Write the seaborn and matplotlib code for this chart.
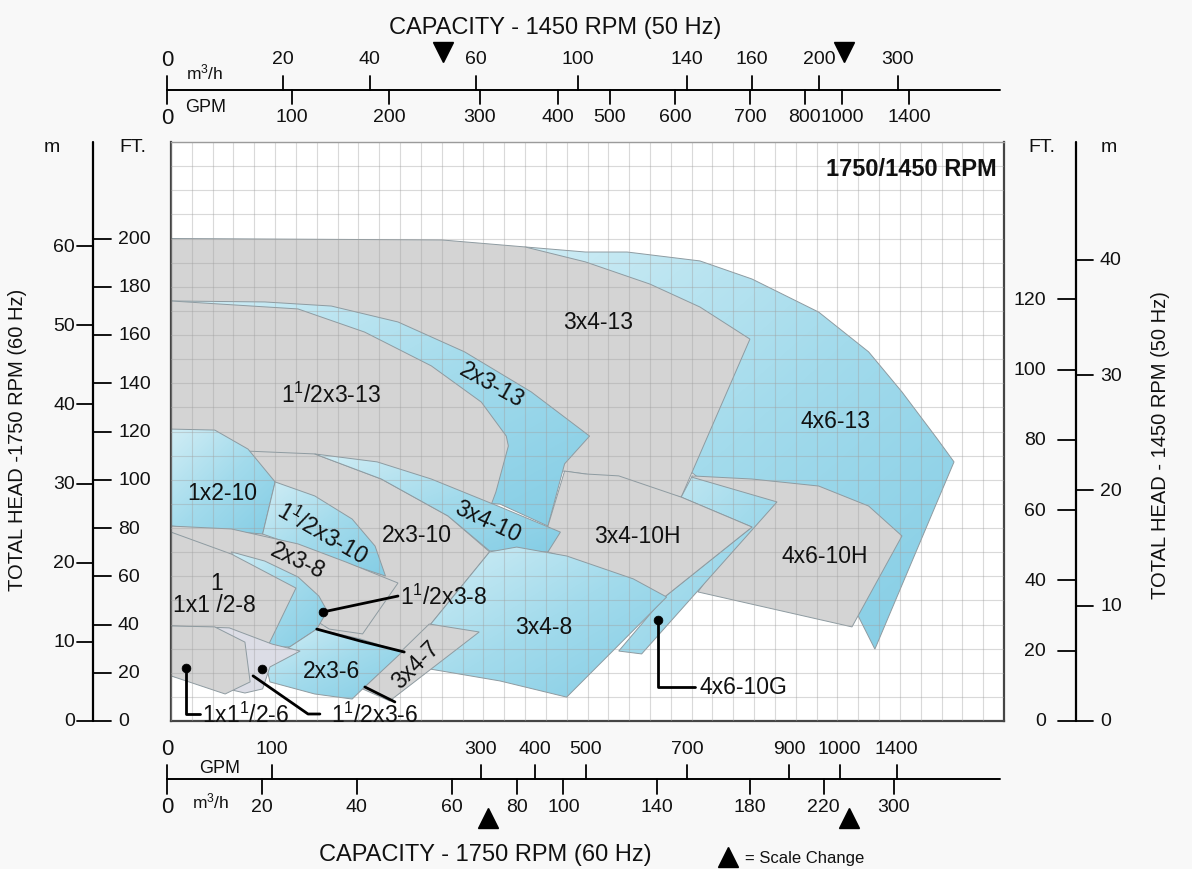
import matplotlib
matplotlib.use('Agg')
import matplotlib.pyplot as plt
import matplotlib.transforms as mtransforms
from matplotlib.colors import LinearSegmentedColormap
from matplotlib.patches import Polygon, Rectangle
import numpy as np
import seaborn as sns

# ---- pump coverage regions: x in chart grid columns (0-40), head in ft at 1750 rpm ----
x_4x6_13 = [17.0, 19.9, 21.9, 25.4, 27.9, 31.1, 33.5, 35.1, 36.8, 37.6, 33.8, 33.0, 30.2, 25.4, 20.6, 15.8]
h_4x6_13 = [196.5, 194.4, 194.4, 190.7, 183.2, 169.5, 153.0, 136.4, 116.9, 107.4, 29.8, 43.5, 67.2, 100.3, 133.5, 174.9]
x_3x4_13 = [0, 13.0, 17.0, 19.9, 23.0, 25.4, 27.8, 24.5, 19.9, 18.0, 0]
h_3x4_13 = [200, 199.4, 196.5, 190.3, 181.1, 171.6, 158.3, 92.8, 102.4, 104.5, 104.5]
x_2x3_13 = [0, 4.5, 7.7, 10.9, 14.1, 17.3, 20.1, 18.9, 18.1, 15.8, 0]
h_2x3_13 = [174.1, 173.7, 172.0, 165.4, 153.0, 136.4, 118.1, 106.6, 80.8, 89.9, 100.3]
x_15x3_13 = [0, 6.1, 9.3, 12.5, 14.9, 16.1, 16.2, 15.6, 15.3, 0]
h_15x3_13 = [174.1, 170.8, 161.2, 147.2, 132.2, 118.1, 114.0, 94.9, 87.9, 87.9]
x_4x6_10h = [25.0, 27.9, 31.1, 33.5, 35.1, 32.7, 25.3, 26.8]
h_4x6_10h = [101.6, 100.3, 97.4, 89.1, 76.7, 39.0, 53.5, 71.3]
x_4x6_10g = [25.0, 29.1, 22.6, 21.5, 23.7, 27.9, 24.5]
h_4x6_10g = [101.1, 90.8, 27.8, 29.0, 51.4, 80.4, 92.8]
x_3x4_10h = [18.9, 19.9, 21.5, 24.5, 27.9, 23.7, 20.6, 18.1, 18.1]
h_3x4_10h = [103.6, 102.4, 101.6, 92.8, 80.4, 51.4, 63.0, 70.1, 80.8]
x_2x3_10 = [3.6, 6.9, 10.1, 13.3, 15.3, 12.4, 11.0, 6.2, 3.6]
h_2x3_10 = [111.9, 110.7, 100.3, 85.0, 70.1, 39.4, 27.8, 34.0, 83.7]
x_3x4_10 = [6.9, 9.9, 12.5, 15.7, 18.7, 18.1, 15.3, 13.3, 10.1]
h_3x4_10 = [110.7, 107.4, 100.3, 89.1, 78.3, 70.1, 70.5, 85.0, 100.3]
x_1x2_10 = [0, 2.1, 3.7, 5.0, 4.4, 0]
h_1x2_10 = [121.0, 120.6, 112.7, 99.1, 77.5, 80.8]
x_15x3_10 = [5.0, 6.9, 8.7, 9.8, 10.3, 8.1, 4.4]
h_15x3_10 = [99.1, 93.3, 83.7, 72.5, 60.1, 66.3, 77.5]
x_3x4_8 = [15.3, 16.6, 19.0, 22.2, 23.8, 19.0, 15.8, 12.4, 12.0, 12.4]
h_3x4_8 = [70.1, 72.1, 68.4, 58.9, 51.4, 9.9, 16.6, 21.6, 34.0, 39.4]
x_2x3_8 = [0, 2.9, 6.1, 8.4, 10.9, 9.2, 7.6, 3.8, 0]
h_2x3_8 = [80.8, 79.6, 73.4, 65.9, 57.2, 36.1, 38.1, 58.9, 67.2]
x_15x3_8 = [2.9, 4.5, 6.1, 7.1, 7.5, 7.0, 5.7, 4.7, 3.8]
h_15x3_8 = [70.1, 66.3, 59.7, 51.8, 45.6, 38.1, 30.7, 30.7, 50.6]
x_1x15_8 = [0, 2.9, 6.0, 4.7, 2.35, 0]
h_1x15_8 = [78.3, 69.2, 55.1, 31.9, 38.1, 39.4]
x_3x4_7 = [12.4, 14.8, 10.5, 9.2]
h_3x4_7 = [40.2, 36.9, 8.3, 13.3]
x_2x3_6 = [4.5, 5.7, 7.0, 9.1, 11.1, 9.2, 8.7, 6.9, 4.75]
h_2x3_6 = [25.7, 30.7, 38.1, 34.0, 28.6, 13.3, 9.1, 11.2, 16.2]
x_15x3_6 = [0, 2.8, 4.85, 6.2, 4.75, 4.4, 3.55, 0]
h_15x3_6 = [39.4, 38.6, 31.9, 29.0, 22.4, 13.3, 11.6, 18.7]
x_1x15_6 = [0, 2.1, 3.55, 3.8, 2.6, 0]
h_1x15_6 = [39.4, 39.0, 32.7, 16.2, 11.2, 18.7]

# region labels
label_text = ['3x4-13', '1$^1$/2x3-13', '2x3-13', '4x6-13', '1x2-10', '1$^1$/2x3-10', '2x3-10',
              '3x4-10', '3x4-10H', '4x6-10H', '2x3-8', '1', '1x1 /2-8', '3x4-8', '2x3-6', '3x4-7']
label_x = [20.5, 7.7, 15.4, 31.9, 2.45, 7.25, 11.8, 15.2, 22.4, 31.4, 6.1, 2.2, 2.1, 17.9, 7.7, 11.75]
label_h = [165.8, 135.5, 139.7, 124.4, 94.9, 78.3, 77.1, 82.9, 76.7, 68.4, 66.7, 57.6, 48.1, 39.0, 21.1, 23.6]
label_rot = [0, 0, -29, 0, 0, -30, 0, -25, 0, 0, -25, 0, 0, 0, 0, 45]

# call-out labels and their leader lines
ptr_text = ['1$^1$/2x3-8', '1x1$^1$/2-6', '1$^1$/2x3-6', '4x6-10G']
ptr_x = [11.0, 1.5, 7.7, 25.4]
ptr_h = [51.8, 2.9, 2.9, 14.1]
lead_x = [[7.3, 10.9], [0.72, 0.72, 1.4], [3.94, 6.58, 7.15], [23.4, 23.4, 25.16],
          [7.0, 9.07, 11.2], [9.31, 10.75]]
lead_h = [[45.2, 51.8], [22.0, 2.9, 2.9], [18.7, 2.9, 2.9], [41.9, 14.1, 14.1],
          [38.1, 33.2, 28.6], [14.1, 7.9]]
dot_x = [7.3, 0.72, 4.37, 23.4]
dot_h = [45.2, 22.0, 21.6, 41.9]

# head scales
ft_ticks_60 = [0, 20, 40, 60, 80, 100, 120, 140, 160, 180, 200]
m_ticks_60 = [0, 10, 20, 30, 40, 50, 60]
ft_ticks_50 = [0, 20, 40, 60, 80, 100, 120]
m_ticks_50 = [0, 10, 20, 30, 40]
FT_PER_M = 3.2808
HEAD_RATIO = (1450 / 1750) ** 2

# capacity scales (printed scales change step at the triangles)
gpm_ticks_60 = [0, 100, 300, 400, 500, 700, 900, 1000, 1400]
gpm_cal_60 = [0, 307, 1018, 1400]
gpm_cal_60_u = [-0.19, 15.22, 32.55, 34.85]
m3h_ticks_60 = [0, 20, 40, 60, 80, 100, 140, 180, 220, 300]
m3h_cal_60 = [0, 67.6, 180, 233.7, 300]
m3h_cal_60_u = [-0.19, 15.22, 27.80, 32.55, 34.71]
scale_change_60 = [307, 1018]

gpm_ticks_50 = [0, 100, 200, 300, 400, 500, 600, 700, 800, 1000, 1400]
gpm_cal_50 = [0, 100, 200, 300, 400, 500, 600, 700, 800, 1000, 1400]
gpm_cal_50_u = [-0.19, 5.81, 10.47, 14.83, 18.58, 21.08, 24.20, 27.80, 30.44, 32.21, 35.43]
m3h_ticks_50 = [0, 20, 40, 60, 100, 140, 160, 200, 300]
m3h_cal_50 = [0, 20, 40, 60, 100, 140, 160, 200, 300]
m3h_cal_50_u = [-0.19, 5.38, 9.55, 14.64, 19.54, 24.77, 27.89, 31.11, 34.90]
scale_change_50 = [259, 1012]

GRAY = '#d4d4d4'
EDGE = '#8e9ba1'
blue_cmap = LinearSegmentedColormap.from_list('pumpblue', ['#d0edf5', '#a3dbec', '#84cde5'])

sns.set_theme(style='white')
plt.rcParams['font.family'] = ['Liberation Sans', 'DejaVu Sans']
plt.rcParams['mathtext.fontset'] = 'custom'
plt.rcParams['mathtext.rm'] = 'Liberation Sans'
plt.rcParams['mathtext.it'] = 'Liberation Sans'
plt.rcParams['mathtext.bf'] = 'Liberation Sans:bold'
plt.rcParams['text.color'] = '#111111'

W, H = 1192, 870
fig = plt.figure(figsize=(W / 100, H / 100), dpi=100)
fig.patch.set_facecolor('#f8f8f8')
ax = fig.add_axes([171 / W, (H - 722) / H, 833 / W, 579 / H])
ax.set_facecolor('white')
lay = fig.add_axes([0, 0, 1, 1], zorder=5)
lay.set_xlim(0, W)
lay.set_ylim(H, 0)
lay.axis('off')

bx = mtransforms.blended_transform_factory(ax.transData, lay.transData)
by = mtransforms.blended_transform_factory(lay.transData, ax.transData)

# draw order, back to front
regions = [
    (x_4x6_13, h_4x6_13, 'blue'), (x_3x4_13, h_3x4_13, 'gray'), (x_2x3_13, h_2x3_13, 'blue'),
    (x_15x3_13, h_15x3_13, 'gray'), (x_4x6_10h, h_4x6_10h, 'gray'), (x_4x6_10g, h_4x6_10g, 'blue'),
    (x_3x4_10h, h_3x4_10h, 'gray'), (x_2x3_10, h_2x3_10, 'gray'), (x_3x4_10, h_3x4_10, 'blue'),
    (x_1x2_10, h_1x2_10, 'blue'), (x_15x3_10, h_15x3_10, 'blue'), (x_3x4_8, h_3x4_8, 'blue'),
    (x_2x3_8, h_2x3_8, 'gray'), (x_15x3_8, h_15x3_8, 'blue'), (x_1x15_8, h_1x15_8, 'gray'),
    (x_3x4_7, h_3x4_7, 'gray'), (x_2x3_6, h_2x3_6, 'blue'), (x_15x3_6, h_15x3_6, 'lav'),
    (x_1x15_6, h_1x15_6, 'gray'),
]

grad = np.linspace(0, 1, 64)
for i, (xs, hs, kind) in enumerate(regions):
    z = 1 + i * 0.02
    if kind == 'blue':
        patch = Polygon(np.column_stack([xs, hs]), closed=True, facecolor='none',
                        edgecolor=EDGE, lw=0.7, zorder=z + 0.01)
        ax.add_patch(patch)
        img = (grad[None, :] + (1 - grad[:, None])) / 2
        im = ax.imshow(img, extent=[min(xs), max(xs), min(hs), max(hs)], origin='lower',
                       cmap=blue_cmap, aspect='auto', interpolation='bilinear', zorder=z)
        im.set_clip_path(patch)
    else:
        face = GRAY if kind == 'gray' else '#dcdde6'
        ax.fill(xs, hs, facecolor=face, edgecolor=EDGE, lw=0.7, zorder=z)

# faint erased box in the corner
ax.add_patch(Rectangle((0, 220), 6.9, 20, facecolor='white', edgecolor='none', alpha=0.75, zorder=2))

ax.set_xticks(np.arange(0, 41, 1))
ax.set_yticks(np.arange(0, 241, 10))
ax.tick_params(length=0, labelbottom=False, labelleft=False)
ax.grid(True, color='#a0a0a0', lw=0.8, alpha=0.4)
ax.set_axisbelow(False)
for side, sp in ax.spines.items():
    sp.set_color('#999999' if side == 'top' else '#444444')
    sp.set_linewidth(1.0 if side == 'top' else 1.6)
    sp.set_visible(True)

for t, x, h, r in zip(label_text, label_x, label_h, label_rot):
    ax.text(x, h, t, ha='center', va='center', rotation=r, rotation_mode='anchor',
            fontsize=16.5, zorder=6)
for t, x, h in zip(ptr_text, ptr_x, ptr_h):
    ax.text(x, h, t, ha='left', va='center', fontsize=16.5, zorder=6)
for lx, lh in zip(lead_x, lead_h):
    sns.lineplot(x=lx, y=lh, sort=False, estimator=None, ax=ax, color='black', lw=2.0, zorder=6)
sns.scatterplot(x=dot_x, y=dot_h, ax=ax, color='black', s=40, edgecolor='black', zorder=7, legend=False)
ax.text(39.65, 229, '1750/1450 RPM', ha='right', va='center', fontsize=17, fontweight='bold', zorder=6)

# ---- head scales ----
lay.plot([93, 93], [0, 240], transform=by, color='black', lw=1.6, clip_on=False)
lay.plot([1076, 1076], [0, 240], transform=by, color='black', lw=1.6, clip_on=False)
for f in ft_ticks_60:
    lay.plot([93, 111], [f, f], transform=by, color='black', lw=1.3)
    lay.text(118, f, str(f), transform=by, ha='left', va='center', fontsize=14)
for m in m_ticks_60:
    lay.plot([77, 93], [m * FT_PER_M] * 2, transform=by, color='black', lw=1.3)
    lay.text(75, m * FT_PER_M, str(m), transform=by, ha='right', va='center', fontsize=14)
for f in ft_ticks_50:
    lay.plot([1058, 1076], [f / HEAD_RATIO] * 2, transform=by, color='black', lw=1.3)
    lay.text(1046, f / HEAD_RATIO, str(f), transform=by, ha='right', va='center', fontsize=14)
for m in m_ticks_50:
    lay.plot([1076, 1093], [m * FT_PER_M / HEAD_RATIO] * 2, transform=by, color='black', lw=1.3)
    lay.text(1100, m * FT_PER_M / HEAD_RATIO, str(m), transform=by, ha='left', va='center', fontsize=14)

lay.text(52, 147, 'm', ha='center', va='center', fontsize=14)
lay.text(133, 147, 'FT.', ha='center', va='center', fontsize=14)
lay.text(1042, 147, 'FT.', ha='center', va='center', fontsize=14)
lay.text(1109, 147, 'm', ha='center', va='center', fontsize=14)
lay.text(18, 440, 'TOTAL HEAD -1750 RPM (60 Hz)', rotation=90, ha='center', va='center', fontsize=14.5)
lay.text(1160, 445, 'TOTAL HEAD - 1450 RPM (50 Hz)', rotation=90, ha='center', va='center', fontsize=14.5)


# ---- capacity scales ----
def cap_row(ticks, cal, cal_u, y_line, step, y_label):
    us = np.interp(ticks, cal, cal_u)
    for v, u in zip(ticks, us):
        lay.plot([u, u], [y_line, y_line + step], transform=bx, color='black', lw=1.3, clip_on=False)
        lay.text(u, y_label, str(v), transform=bx, ha='center', va='center',
                 fontsize=16 if v == 0 else 14)


lay.plot([-0.19, 39.8], [91, 91], transform=bx, color='black', lw=1.4, clip_on=False)
cap_row(m3h_ticks_50, m3h_cal_50, m3h_cal_50_u, 91, -14, 60)
cap_row(gpm_ticks_50, gpm_cal_50, gpm_cal_50_u, 91, 14, 118)
lay.plot(np.interp(scale_change_50, gpm_cal_50, gpm_cal_50_u), [53, 53], 'v', transform=bx,
         color='black', markersize=15, linestyle='none', clip_on=False)
lay.text(205, 72, 'm$^3$/h', ha='center', va='center', fontsize=12.5)
lay.text(206, 108, 'GPM', ha='center', va='center', fontsize=13)
lay.text(555, 28, 'CAPACITY - 1450 RPM (50 Hz)', ha='center', va='center', fontsize=17)

lay.plot([-0.19, 39.8], [780, 780], transform=bx, color='black', lw=1.4, clip_on=False)
cap_row(gpm_ticks_60, gpm_cal_60, gpm_cal_60_u, 780, -14, 750)
cap_row(m3h_ticks_60, m3h_cal_60, m3h_cal_60_u, 780, 15, 808)
lay.plot(np.interp(scale_change_60, gpm_cal_60, gpm_cal_60_u), [819, 819], '^', transform=bx,
         color='black', markersize=15, linestyle='none', clip_on=False)
lay.text(220, 769, 'GPM', ha='center', va='center', fontsize=13)
lay.text(211, 801, 'm$^3$/h', ha='center', va='center', fontsize=12.5)
lay.text(485, 855, 'CAPACITY - 1750 RPM (60 Hz)', ha='center', va='center', fontsize=17)
lay.plot([728], [858], '^', color='black', markersize=15)
lay.text(745, 859, '= Scale Change', ha='left', va='center', fontsize=12)

ax.set_xlim(0, 40)
ax.set_ylim(0, 240)
ax.set_xlabel('')
ax.set_ylabel('')
lay.set_xlim(0, W)
lay.set_ylim(H, 0)

fig.savefig('out.png', dpi=100, facecolor=fig.get_facecolor())
